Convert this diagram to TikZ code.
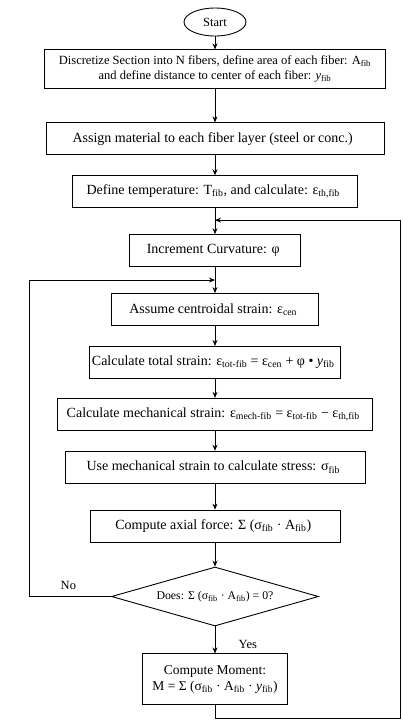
\documentclass[tikz,border=0pt]{standalone}
\usepackage{fontspec}
\setmainfont{Liberation Serif}
\usepackage{tikz}
\usetikzlibrary{
  arrows.meta,
  positioning,
  shapes.geometric,
  calc
}
\newcommand{\fsub}[1]{\textsubscript{#1}}

\begin{document}
\begin{tikzpicture}[
  node distance=20pt,
  stepbox/.style={
    draw, rectangle, minimum height=32pt,
    align=center, font=\fontsize{14}{16}\selectfont,
    line width=0.9pt, inner sep=2pt,
  },
  terminal/.style={
    draw, ellipse, minimum width=62pt, minimum height=28pt,
    inner sep=1pt, font=\fontsize{12.5}{15}\selectfont, line width=0.9pt,
  },
  decision/.style={
    draw, diamond, shape aspect=3.5, minimum width=207pt, minimum height=59pt,
    inner sep=0pt, font=\fontsize{11.8}{14}\selectfont, line width=0.9pt,
  },
  arrow/.style={-{Stealth[length=6pt, width=5pt]}, line width=0.8pt},
  branch/.style={font=\fontsize{12.5}{15}\selectfont},
]
\useasboundingbox (0,0) rectangle (403pt,-724pt);

\node[terminal] (start) at (215pt,-22pt) {Start};

\node[stepbox, font=\fontsize{12.5}{15}\selectfont, minimum width=341pt, minimum height=39pt, below=13pt of start] (discretize) {
  Discretize Section into N fibers, define area of each fiber: A\fsub{fib}\\
  and define distance to center of each fiber: \textit{y}\fsub{fib}
};

\node[stepbox, minimum width=338pt, below=33pt of discretize] (assign) {
  Assign material to each fiber layer (steel or conc.)
};

\node[stepbox, minimum width=285pt, below=of assign] (temp) {
  Define temperature: T\fsub{fib}, and calculate: ε\fsub{th,fib}
};

\node[stepbox, minimum width=171pt, below=26pt of temp] (incr) {
  Increment Curvature: φ
};

\node[stepbox, minimum width=207pt, below=26pt of incr] (assume) {
  Assume centroidal strain: ε\fsub{cen}
};

\node[stepbox, minimum width=250pt, below=of assume] (total) {
  Calculate total strain: ε\fsub{tot-fib} = ε\fsub{cen} + φ • \textit{y}\fsub{fib}
};

\node[stepbox, minimum width=315pt, below=19pt of total] (mech) {
  Calculate mechanical strain: ε\fsub{mech-fib} = ε\fsub{tot-fib} − ε\fsub{th,fib}
};

\node[stepbox, minimum width=300pt, below=of mech] (stress) {
  Use mechanical strain to calculate stress: σ\fsub{fib}
};

\node[stepbox, minimum width=250pt, below=26pt of stress] (axial) {
  Compute axial force: Σ (σ\fsub{fib} · A\fsub{fib})
};

\node[decision, below=24pt of axial] (check) {
  Does: Σ (σ\fsub{fib} · A\fsub{fib}) = 0?
};

\node[stepbox, font=\fontsize{13.5}{16}\selectfont, minimum width=145pt, minimum height=51pt, below=27pt of check] (moment) {
  Compute Moment:\\
  M = Σ (σ\fsub{fib} · A\fsub{fib} · \textit{y}\fsub{fib})
};

% straight flow
\draw[arrow] (start) -- (discretize);
\draw[arrow] (discretize) -- (assign);
\draw[arrow] (assign) -- (temp);
\draw[arrow] (temp) -- (incr);
\draw[arrow] (incr) -- (assume);
\draw[arrow] (assume) -- (total);
\draw[arrow] (total) -- (mech);
\draw[arrow] (mech) -- (stress);
\draw[arrow] (stress) -- (axial);
\draw[arrow] (axial) -- (check);
\draw[arrow] (check) -- node[branch, right=20pt, pos=0.65] {Yes} (moment);

% loop joints
\coordinate (lt) at (29pt,0);
\coordinate (rt) at (400pt,0);
\coordinate (jtop) at ($(temp.south)!0.46!(incr.north)$);
\coordinate (jmid) at ($(incr.south)!0.5!(assume.north)$);
\coordinate (jbot) at ($(moment.south)+(0,-13pt)$);

% No: back to centroidal strain
\draw[arrow] (check.west) -- node[branch, above=3pt, pos=0.52] {No} (check.west -| lt)
  -- (jmid -| lt) -- (jmid);

% next curvature step
\draw[arrow] (moment.south) -- (jbot) -- (jbot -| rt) -- (jtop -| rt) -- (jtop);

\end{tikzpicture}
\end{document}
